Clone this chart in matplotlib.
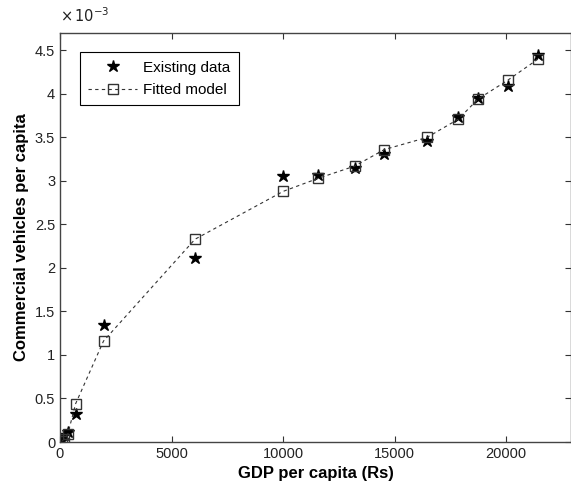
import matplotlib.pyplot as plt
from matplotlib.ticker import FuncFormatter

# GDP per capita (Rs) and vehicles per capita
gdp = [100, 200, 350, 700, 1950, 6050, 10000, 11570, 13200, 14530, 16450, 17850, 18730, 20080, 21420]
existing = [0.00002, 0.00008, 0.00011, 0.00032, 0.00134, 0.00211, 0.00306, 0.00307, 0.00315, 0.00331, 0.00346, 0.00373, 0.00395, 0.00409, 0.00445]
fitted = [0.00001, 0.00004, 0.00009, 0.00044, 0.00116, 0.00233, 0.00288, 0.00303, 0.00317, 0.00336, 0.00350, 0.00371, 0.00394, 0.00416, 0.00440]

plt.rcParams['font.family'] = ['Liberation Sans', 'DejaVu Sans']

fig = plt.figure(figsize=(5.71, 4.92), dpi=100)
ax = fig.add_axes([60 / 571, 1 - 442 / 492, 511 / 571, 409 / 492])

ax.plot(gdp, existing, linestyle='none', marker='*', color='black', markersize=9, label='Existing data')
ax.plot(gdp, fitted, linestyle=(0, (3, 3)), linewidth=0.8, color='#333333',
        marker='s', markersize=7, markerfacecolor='none', markeredgecolor='#333333',
        markeredgewidth=1.0, label='Fitted model')

ax.set_xlim(0, 22900)
ax.set_ylim(0, 0.0047)
ax.set_xticks([0, 5000, 10000, 15000, 20000])
ax.set_yticks([i * 0.0005 for i in range(10)])
ax.yaxis.set_major_formatter(FuncFormatter(lambda v, p: '%g' % round(v * 1000, 4)))
ax.text(0.0, 1.02, r'$\times\,10^{-3}$', transform=ax.transAxes, fontsize=10.5,
        color='#222222', ha='left', va='bottom')

ax.tick_params(direction='in', top=True, right=True, labelsize=10.5, length=4, colors='#333333', labelcolor='#222222')
for s in ax.spines.values():
    s.set_color('#444444')
    s.set_linewidth(1.0)

ax.set_xlabel('GDP per capita (Rs)', fontsize=12, fontweight='bold')
ax.set_ylabel('Commercial vehicles per capita', fontsize=12, fontweight='bold')

leg = ax.legend(loc='upper left', bbox_to_anchor=(0.039, 0.953), borderaxespad=0, fontsize=11,
                fancybox=False, framealpha=1, edgecolor='black', handlelength=3.2,
                borderpad=0.55, labelspacing=0.55, handletextpad=0.4)
leg.get_frame().set_linewidth(0.8)

fig.savefig('out.png', dpi=100)
